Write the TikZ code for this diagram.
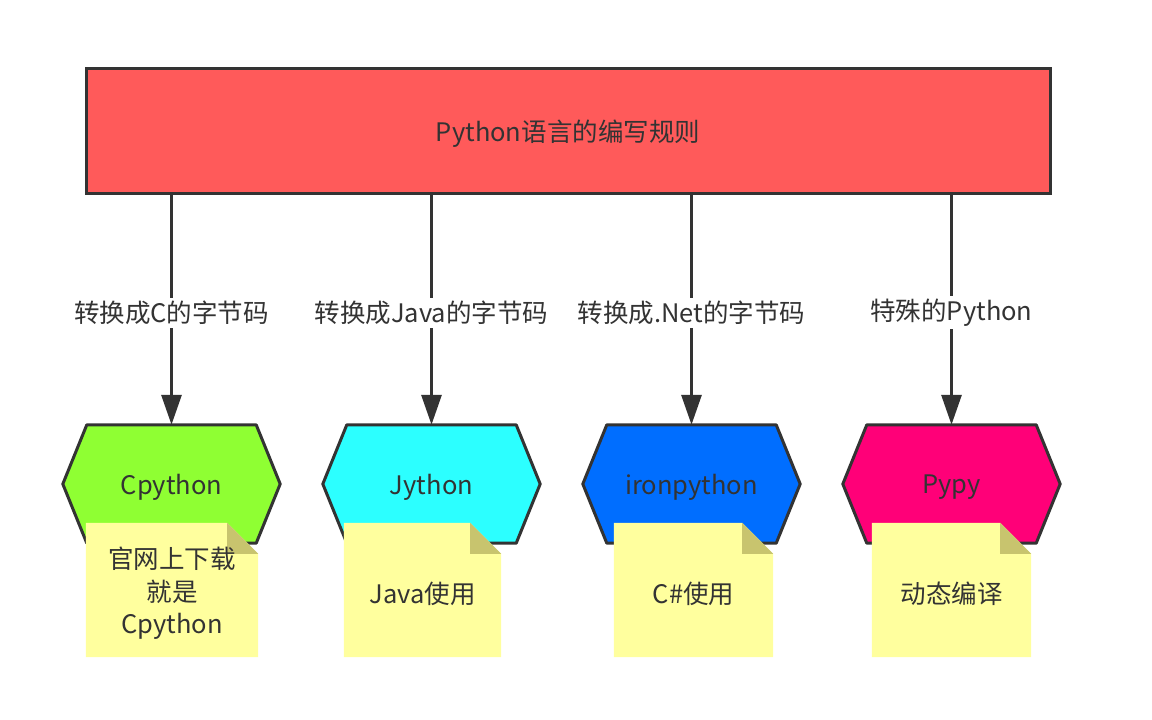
\documentclass[tikz,border=0pt]{standalone}
\usepackage{fontspec}
\setmainfont{Noto Sans CJK SC}
\usetikzlibrary{arrows.meta}
\definecolor{txt}{HTML}{333333}
\definecolor{edge}{HTML}{333333}
\definecolor{rulered}{HTML}{FF5A5A}
\definecolor{cgreen}{HTML}{8FFF33}
\definecolor{jcyan}{HTML}{2CFFFF}
\definecolor{iblue}{HTML}{006EFF}
\definecolor{ppink}{HTML}{FF0078}
\definecolor{notey}{HTML}{FFFF9E}
\definecolor{notefold}{HTML}{C8C46E}
\tikzset{
  every node/.style={text=txt, font=\fontsize{25.5}{32.5}\selectfont},
  rulebox/.style={draw=edge, line width=3pt, fill=rulered, minimum width=964pt, minimum height=125pt, inner sep=0pt},
  hexbox/.style={minimum width=217pt, minimum height=118pt, inner sep=0pt},
  hexline/.style={draw=edge, line width=3pt, line join=round},
  notebox/.style={minimum height=134pt, inner sep=0pt, align=center},
  arr/.style={draw=edge, line width=3pt, -{Triangle[width=20pt,length=30pt]}},
  lbl/.style={fill=white, inner sep=3pt, yshift=-3pt},
  tx/.style={yshift=-3.5pt, align=center}
}
\newcommand\hexdraw[2]{%
  \path[hexline, fill=#2] (#1.west) -- ([xshift=24pt]#1.north west) -- ([xshift=-24pt]#1.north east)
    -- (#1.east) -- ([xshift=-24pt]#1.south east) -- ([xshift=24pt]#1.south west) -- cycle;}
\newcommand\notedraw[1]{%
  \fill[notey] (#1.north west) -- ([xshift=-31pt]#1.north east) -- ([yshift=-31pt]#1.north east)
    -- (#1.south east) -- (#1.south west) -- cycle;
  \fill[notefold] ([xshift=-31pt]#1.north east) -- ([xshift=-31pt,yshift=-31pt]#1.north east)
    -- ([yshift=-31pt]#1.north east) -- cycle;}
\begin{document}
\begin{tikzpicture}[x=1pt,y=-1pt]
\useasboundingbox (0,0) rectangle (1152,720);
\node[rulebox] (rule) at (568,130.5) {};
\node[tx] at (rule) {Python语言的编写规则};
% hexagons (shape frames)
\path node[hexbox] (cpy) at (171.5,484) {}
      node[hexbox] (jy) at (431.5,484) {}
      node[hexbox] (iron) at (691.5,484) {}
      node[hexbox] (pypy) at (951.5,484) {};
\hexdraw{cpy}{cgreen}
\hexdraw{jy}{jcyan}
\hexdraw{iron}{iblue}
\hexdraw{pypy}{ppink}
\node[tx] at (cpy) {Cpython};
\node[tx] at (jy) {Jython};
\node[tx] at (iron) {ironpython};
\node[tx] at (pypy) {Pypy};
% connectors
\draw[arr] (cpy.north |- rule.south) -- node[lbl] {转换成C的字节码} (cpy.north);
\draw[arr] (jy.north |- rule.south) -- node[lbl] {转换成Java的字节码} (jy.north);
\draw[arr] (iron.north |- rule.south) -- node[lbl] {转换成.Net的字节码} (iron.north);
\draw[arr] (pypy.north |- rule.south) -- node[lbl] {特殊的Python} (pypy.north);
% notes
\path node[notebox, minimum width=172pt] (n1) at (172,590) {}
      node[notebox, minimum width=157pt] (n2) at (422.5,590) {}
      node[notebox, minimum width=159pt] (n3) at (693.5,590) {}
      node[notebox, minimum width=159pt] (n4) at (951.5,590) {};
\notedraw{n1}
\notedraw{n2}
\notedraw{n3}
\notedraw{n4}
\node[tx] at (n1) {官网上下载\\就是\\Cpython};
\node[tx] at (n2) {Java使用};
\node[tx] at (n3) {C\#使用};
\node[tx] at (n4) {动态编译};
\end{tikzpicture}
\end{document}
